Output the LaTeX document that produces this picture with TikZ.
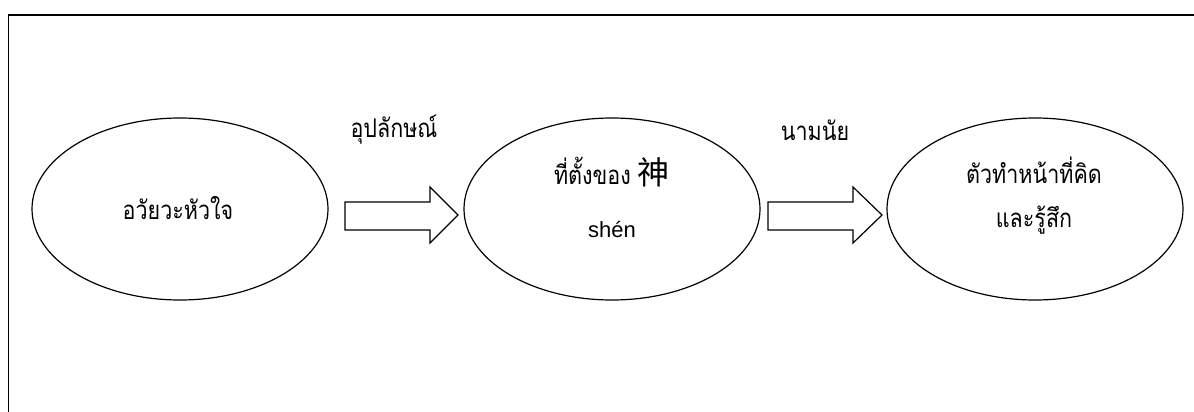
\documentclass[tikz,border=0pt]{standalone}
\usepackage{fontspec}
\usepackage{graphicx}
\setmainfont{Liberation Sans}
\newfontfamily\thaifont[Script=Thai]{Loma}
\newfontfamily\cjk{Noto Sans CJK SC}
\usetikzlibrary{shapes.geometric}
\newcommand{\thtxt}[1]{\scalebox{1}[1.2]{#1}}
\tikzset{
  ell/.style={draw, ellipse, line width=1.2pt, minimum width=296pt, minimum height=182pt, inner sep=0pt},
  thai/.style={font=\thaifont\fontsize{21.5}{26}\selectfont, inner sep=0pt, anchor=center},
  latin/.style={font=\fontsize{22}{26}\selectfont, inner sep=0pt},
  blockarrow/.style={draw, line width=1.2pt, line join=miter},
  frame/.style={draw, line width=1.6pt}
}
\begin{document}
\begin{tikzpicture}[x=1pt,y=-1pt]
\useasboundingbox (0,0) rectangle (1194,412);
\begin{scope}
\clip (0,0) rectangle (1194,412);
\draw[frame] (8.5,15) rectangle (1215,430);
\end{scope}
% ellipses
\node[ell] (e1) at (180,209) {};
\node[ell] (e2) at (612,209) {};
\node[ell] (e3) at (1035,209) {};
% texts
\node[thai] (t1) at (178,208) {\thtxt{อวัยวะหัวใจ}};
\node[thai] (t2) at (612,172) {\thtxt{ที่ตั้งของ} {\cjk\fontsize{32}{36}\selectfont 神}};
\node[latin] (t2b) at (612,230) {shén};
\node[thai] (t3) at (1034,170) {\thtxt{ตัวทำหน้าที่คิด}};
\node[thai] (t3b) at (1034,220) {\thtxt{และรู้สึก}};
% labels
\node[thai] (l1) at (394,130) {\thtxt{อุปลักษณ์}};
\node[thai] (l2) at (815,130) {\thtxt{นามนัย}};
% block arrows
\draw[blockarrow] (345,202) -- (430,202) -- (430,187) -- (458,215) -- (430,243) -- (430,230) -- (345,230) -- cycle;
\draw[blockarrow] (768,202) -- (853,202) -- (853,187) -- (882,215) -- (853,243) -- (853,230) -- (768,230) -- cycle;
\end{tikzpicture}
\end{document}
